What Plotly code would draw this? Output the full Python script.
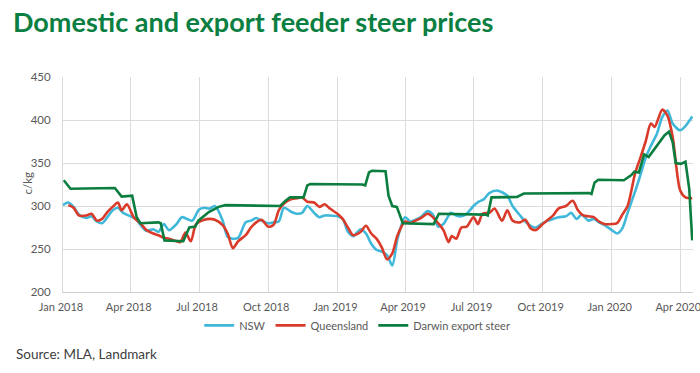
import plotly.graph_objects as go

nsw_dates = ["2018-01-01","2018-01-08","2018-01-15","2018-01-22","2018-02-01","2018-02-08","2018-02-15","2018-02-22",
"2018-03-01","2018-03-08","2018-03-15","2018-03-22","2018-04-01","2018-04-08","2018-04-15","2018-04-22",
"2018-05-01","2018-05-08","2018-05-15","2018-05-22","2018-06-01","2018-06-08","2018-06-15","2018-06-22",
"2018-07-01","2018-07-08","2018-07-15","2018-07-22","2018-08-01","2018-08-08","2018-08-15","2018-08-22",
"2018-09-01","2018-09-08","2018-09-15","2018-09-22","2018-10-01","2018-10-08","2018-10-15","2018-10-22",
"2018-11-01","2018-11-08","2018-11-15","2018-11-22","2018-12-01","2018-12-08","2018-12-15","2018-12-22",
"2019-01-01","2019-01-08","2019-01-15","2019-01-22","2019-02-01","2019-02-08","2019-02-15","2019-02-22",
"2019-03-01","2019-03-08","2019-03-15","2019-03-22","2019-04-01","2019-04-08","2019-04-15","2019-04-22",
"2019-05-01","2019-05-08","2019-05-15","2019-05-22","2019-06-01","2019-06-08","2019-06-15","2019-06-22",
"2019-07-01","2019-07-08","2019-07-15","2019-07-22","2019-08-01","2019-08-08","2019-08-15","2019-08-22",
"2019-09-01","2019-09-08","2019-09-15","2019-09-22","2019-10-01","2019-10-08","2019-10-15","2019-10-22",
"2019-11-01","2019-11-08","2019-11-15","2019-11-22","2019-12-01","2019-12-08","2019-12-15","2019-12-22",
"2020-01-01","2020-01-08","2020-01-15","2020-01-22","2020-02-01","2020-02-08","2020-02-15","2020-02-22",
"2020-03-01","2020-03-08","2020-03-15","2020-03-22","2020-04-01","2020-04-08","2020-04-17"]
nsw_values = [301,304,299,290,286,288,282,280,
287,295,298,292,288,285,277,271,
273,270,279,272,279,287,285,283,
296,298,297,300,284,264,262,263,
281,283,286,283,280,281,282,298,
293,291,292,300,292,287,289,289,
288,285,270,265,273,268,256,249,
247,243,231,262,287,282,284,287,
294,290,276,279,292,289,288,291,
300,305,308,315,318,316,312,300,
289,282,277,275,280,283,285,287,
288,292,285,290,283,285,281,278,
272,268,274,292,317,336,356,370,
384,403,411,396,388,393,404]

qld_dates = ["2018-01-08","2018-01-15","2018-01-22","2018-02-01","2018-02-08","2018-02-15","2018-02-22",
"2018-03-01","2018-03-08","2018-03-15","2018-03-20","2018-03-27","2018-04-05","2018-04-15","2018-04-22",
"2018-05-01","2018-05-08","2018-05-15","2018-05-22","2018-06-01","2018-06-06","2018-06-13","2018-06-20","2018-06-27",
"2018-07-08","2018-07-15","2018-07-22","2018-08-01","2018-08-08","2018-08-15","2018-08-22",
"2018-09-01","2018-09-08","2018-09-15","2018-09-22","2018-10-01","2018-10-08","2018-10-15","2018-10-22",
"2018-11-01","2018-11-08","2018-11-15","2018-11-22","2018-12-01","2018-12-08","2018-12-15","2018-12-22",
"2019-01-01","2019-01-08","2019-01-15","2019-01-22","2019-02-01","2019-02-08","2019-02-15","2019-02-22",
"2019-03-01","2019-03-08","2019-03-15","2019-03-22","2019-04-01","2019-04-08","2019-04-15","2019-04-22",
"2019-05-01","2019-05-08","2019-05-15","2019-05-22","2019-05-29","2019-06-02","2019-06-08","2019-06-15","2019-06-22",
"2019-07-01","2019-07-07","2019-07-13","2019-07-22","2019-07-29","2019-08-08","2019-08-15","2019-08-22",
"2019-09-01","2019-09-08","2019-09-15","2019-09-22","2019-10-01","2019-10-08","2019-10-15","2019-10-22",
"2019-11-01","2019-11-10","2019-11-17","2019-11-24","2019-12-01","2019-12-08","2019-12-15","2019-12-22",
"2020-01-01","2020-01-08","2020-01-15","2020-01-22","2020-02-01","2020-02-08","2020-02-15","2020-02-22",
"2020-02-27","2020-03-03","2020-03-08","2020-03-15","2020-03-22","2020-04-01","2020-04-08","2020-04-17"]
qld_values = [301,298,289,289,291,283,285,
293,299,304,295,302,287,279,272,
268,266,263,262,259,258,269,259,279,
284,285,284,278,268,251,259,
266,275,281,284,276,278,295,303,
308,309,310,305,304,299,302,297,
291,285,275,266,270,277,268,262,
252,238,245,266,282,280,283,286,
291,287,280,272,258,265,262,275,276,
287,279,291,292,297,283,295,283,
281,284,274,272,279,284,289,297,
300,306,295,289,288,287,282,279,
279,280,290,300,338,356,375,396,
392,402,412,405,380,318,310,309]

darwin_dates = ["2018-01-02","2018-01-11","2018-03-11","2018-03-20","2018-04-03","2018-04-09","2018-04-14",
"2018-05-08","2018-05-11","2018-05-16","2018-06-10","2018-06-18","2018-06-26","2018-06-30","2018-07-14",
"2018-07-27","2018-08-05","2018-10-17","2018-10-24","2018-10-30","2018-11-17","2018-11-22","2018-11-26",
"2019-02-03","2019-02-07","2019-02-12","2019-02-16","2019-03-06","2019-03-10","2019-03-15","2019-03-21",
"2019-03-26","2019-03-29","2019-05-09","2019-05-16","2019-07-17","2019-07-20","2019-07-25","2019-08-28",
"2019-09-06","2019-12-02","2019-12-05","2019-12-09","2019-12-14","2020-01-17","2020-01-27","2020-01-31",
"2020-02-06","2020-02-13","2020-02-19","2020-03-02","2020-03-11","2020-03-17","2020-03-22","2020-03-26",
"2020-04-02","2020-04-08","2020-04-13","2020-04-17"]
darwin_values = [330,320,321,311,312,287,280,
281,280,260,259,275,276,283,293,
299,301,300,306,310,310,324,325.5,
325,324,339,341,340.5,312,300,299,
288,280,279,291,290,289,310,310.5,
314.5,315,314,327,330.5,330,336,340,
339,360,357,372,382,386.5,374,350,
349,351.5,320,260]

series_names = ["NSW", "Queensland", "Darwin export steer"]
colors = ["#41b8da", "#da3a2a", "#0b7d3f"]

y_ticks = [200, 250, 300, 350, 400, 450]
x_ticks = ["2018-01-01","2018-04-01","2018-07-01","2018-10-01","2019-01-01","2019-04-01",
           "2019-07-01","2019-10-01","2020-01-01","2020-04-01"]
x_tick_labels = ["Jan 2018","Apr 2018","Jul 2018","Oct 2018","Jan 2019","Apr 2019",
                 "Jul 2019","Oct 2019","Jan 2020","Apr 2020"]

FONT = "Lato"
fig = go.Figure()
fig.add_trace(go.Scatter(x=nsw_dates, y=nsw_values, mode="lines", name=series_names[0],
                         line=dict(color=colors[0], width=2.6, shape="spline", smoothing=0.8)))
fig.add_trace(go.Scatter(x=qld_dates, y=qld_values, mode="lines", name=series_names[1],
                         line=dict(color=colors[1], width=2.6, shape="spline", smoothing=0.8)))
fig.add_trace(go.Scatter(x=darwin_dates, y=darwin_values, mode="lines", name=series_names[2],
                         line=dict(color=colors[2], width=2.6)))

fig.update_layout(
    width=700, height=373,
    margin=dict(l=63, r=7, t=77, b=81, pad=0),
    paper_bgcolor="white", plot_bgcolor="white",
    font=dict(family=FONT, size=11, color="#595959"),
    title=dict(text="<b>Domestic and export feeder steer prices</b>", x=13/700, xanchor="left",
               xref="container", y=1-23/373, yanchor="middle", yref="container",
               font=dict(family=FONT, size=27, color="#0a7f41")),
    showlegend=True,
    legend=dict(orientation="h", x=0.467, xanchor="center", y=-0.155, yanchor="middle",
                font=dict(family=FONT, size=11, color="#595959"), itemwidth=30,
                tracegroupgap=0, bgcolor="rgba(0,0,0,0)"),
    xaxis=dict(type="date", range=["2018-01-01", "2020-04-18"], tickvals=x_ticks, ticktext=x_tick_labels,
               showgrid=True, gridcolor="#dcdcdc", gridwidth=1, showline=True, linecolor="#d0d0d0",
               linewidth=1, ticks="", zeroline=False, automargin=False, ticklabeloverflow="allow",
               ticklabelstandoff=5, ticklabelshift=-2,
               tickfont=dict(size=11, color="#595959")),
    yaxis=dict(range=[200, 450], tickvals=y_ticks, showgrid=True, gridcolor="#dcdcdc", gridwidth=1,
               showline=True, linecolor="#d9d9d9", linewidth=1, ticks="", zeroline=False,
               automargin=False, ticklabelstandoff=9, tickfont=dict(size=11.5, color="#595959")),
    annotations=[
        dict(text="c/kg", textangle=-90, x=-0.057, y=0.505, xref="paper", yref="paper",
             showarrow=False, font=dict(family=FONT, size=11.5, color="#595959"),
             xanchor="center", yanchor="middle"),
        dict(text="Source: MLA, Landmark", x=(14-63)/630, xref="paper", y=-0.29, yref="paper",
             showarrow=False, font=dict(family=FONT, size=13.5, color="#404040"),
             xanchor="left", yanchor="middle"),
    ],
)

fig.write_html("out.html", config={"displayModeBar": False},
               post_script="document.body.style.margin='0px';document.body.style.overflow='hidden';")
